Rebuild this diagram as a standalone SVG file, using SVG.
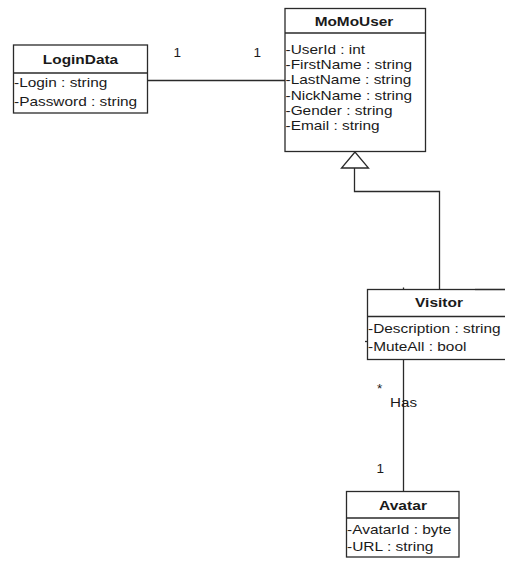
<svg xmlns="http://www.w3.org/2000/svg" width="505" height="561" viewBox="0 0 505 561">
  <style>
    .box { fill: #ffffff; stroke: #2a2a2a; stroke-width: 1.3; }
    .sep { stroke: #2a2a2a; stroke-width: 1.3; }
    .edge { fill: none; stroke: #2a2a2a; stroke-width: 1.3; }
    text { font-family: "Liberation Sans", Arial, sans-serif; font-size: 13.5px; fill: #1a1a1a; }
    .title { font-weight: bold; text-anchor: middle; }
  </style>
  <rect width="505" height="561" fill="#ffffff"/>

  <!-- connectors -->
  <g id="connectors">
    <!-- association LoginData - MoMoUser -->
    <line class="edge" x1="147.5" y1="80.5" x2="285" y2="80.5"/>
    <text x="173.5" y="56.5">1</text>
    <text x="253.5" y="56.5">1</text>
    <!-- generalization Visitor -> MoMoUser -->
    <polyline class="edge" points="439.5,289.5 439.5,191.5 354.5,191.5 354.5,168"/>
    <polygon class="edge" points="355,152 341.5,168 368.5,168" fill="#ffffff"/>
    <!-- association Visitor - Avatar -->
    <line class="edge" x1="403.5" y1="359.5" x2="403.5" y2="491.5"/>
    <text x="377" y="393">*</text>
    <text x="390" y="406.5" textLength="27" lengthAdjust="spacingAndGlyphs">Has</text>
    <text x="376.5" y="473">1</text>
  </g>

  <!-- LoginData -->
  <g id="LoginData">
    <rect class="box" x="13.5" y="45" width="134" height="68"/>
    <line class="sep" x1="13.5" y1="73" x2="147.5" y2="73"/>
    <text class="title" x="80.5" y="63.5" textLength="75.3" lengthAdjust="spacingAndGlyphs">LoginData</text>
    <text x="14" y="86.5" textLength="93.3" lengthAdjust="spacingAndGlyphs">-Login : string</text>
    <text x="14" y="106" textLength="123.2" lengthAdjust="spacingAndGlyphs">-Password : string</text>
  </g>

  <!-- MoMoUser -->
  <g id="MoMoUser">
    <rect class="box" x="285" y="8.5" width="140.5" height="143"/>
    <line class="sep" x1="285" y1="33" x2="425.5" y2="33"/>
    <text class="title" x="354" y="25.7" textLength="78.7" lengthAdjust="spacingAndGlyphs">MoMoUser</text>
    <text x="285.5" y="53.5" textLength="79.6" lengthAdjust="spacingAndGlyphs">-UserId : int</text>
    <text x="285.5" y="69" textLength="126.6" lengthAdjust="spacingAndGlyphs">-FirstName : string</text>
    <text x="285.5" y="84.3" textLength="125.8" lengthAdjust="spacingAndGlyphs">-LastName : string</text>
    <text x="285.5" y="99.6" textLength="126.6" lengthAdjust="spacingAndGlyphs">-NickName : string</text>
    <text x="285.5" y="115" textLength="107" lengthAdjust="spacingAndGlyphs">-Gender : string</text>
    <text x="285.5" y="130.3" textLength="94.1" lengthAdjust="spacingAndGlyphs">-Email : string</text>
  </g>

  <!-- Visitor -->
  <g id="Visitor">
    <rect class="box" x="367.5" y="289.5" width="145" height="70"/>
    <line class="sep" x1="367.5" y1="316.5" x2="512" y2="316.5"/>
    <line class="sep" x1="475" y1="289.5" x2="505" y2="289.5" stroke-width="2.2"/>
    <line class="sep" x1="403.5" y1="287.5" x2="403.5" y2="289.5"/>
    <line class="sep" x1="365" y1="341.5" x2="367.5" y2="341.5"/>
    <text class="title" x="439" y="307.3" textLength="47.9" lengthAdjust="spacingAndGlyphs">Visitor</text>
    <text x="368" y="332.8" textLength="132.6" lengthAdjust="spacingAndGlyphs">-Description : string</text>
    <text x="368" y="350.5" textLength="98.4" lengthAdjust="spacingAndGlyphs">-MuteAll : bool</text>
  </g>

  <!-- Avatar -->
  <g id="Avatar">
    <rect class="box" x="346.5" y="491.5" width="112.5" height="65.5"/>
    <line class="sep" x1="346.5" y1="518" x2="459" y2="518"/>
    <text class="title" x="403" y="510.3" textLength="47.9" lengthAdjust="spacingAndGlyphs">Avatar</text>
    <text x="347" y="533.5" textLength="104.4" lengthAdjust="spacingAndGlyphs">-AvatarId : byte</text>
    <text x="347" y="550.7" textLength="86.4" lengthAdjust="spacingAndGlyphs">-URL : string</text>
  </g>
</svg>
